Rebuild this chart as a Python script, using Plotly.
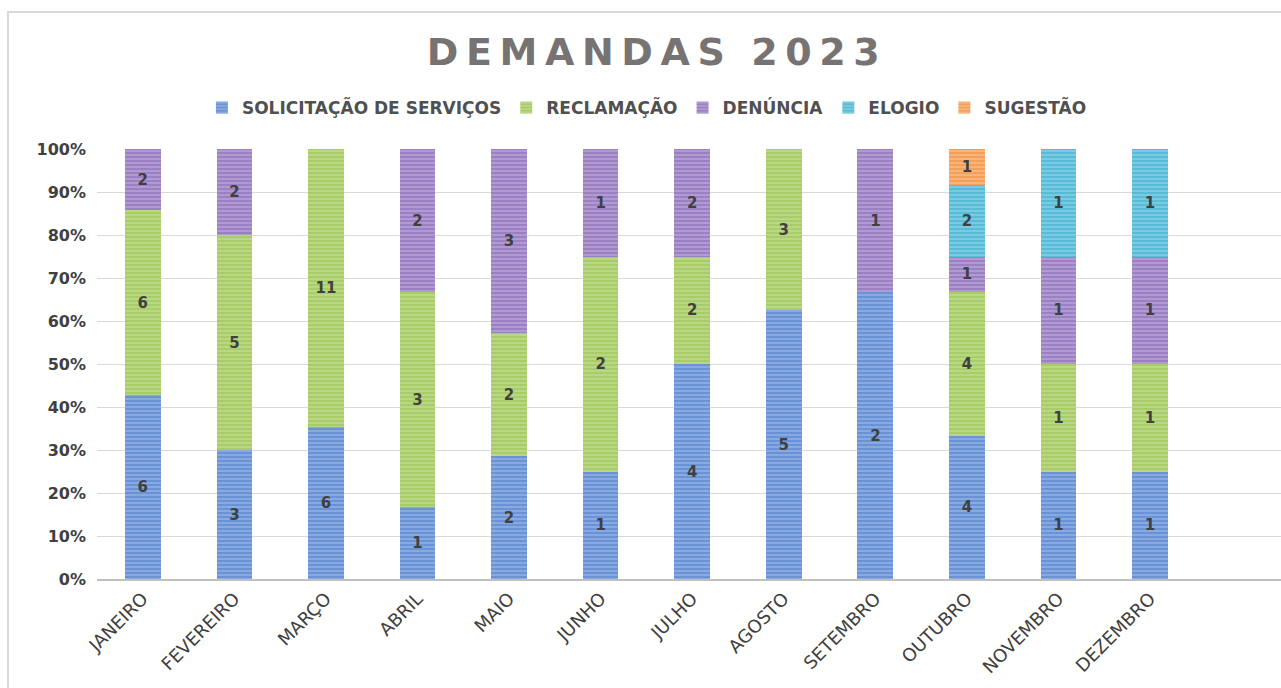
import plotly.graph_objects as go

meses = ["JANEIRO", "FEVEREIRO", "MARÇO", "ABRIL", "MAIO", "JUNHO", "JULHO",
         "AGOSTO", "SETEMBRO", "OUTUBRO", "NOVEMBRO", "DEZEMBRO"]

solicitacao = [6, 3, 6, 1, 2, 1, 4, 5, 2, 4, 1, 1]
reclamacao = [6, 5, 11, 3, 2, 2, 2, 3, None, 4, 1, 1]
denuncia = [2, 2, None, 2, 3, 1, 2, None, 1, 1, 1, 1]
elogio = [None, None, None, None, None, None, None, None, None, 2, 1, 1]
sugestao = [None, None, None, None, None, None, None, None, None, 1, None, None]

series = [
    ("SOLICITAÇÃO DE SERVIÇOS", solicitacao, "#6a92d6"),
    ("RECLAMAÇÃO", reclamacao, "#a8cc68"),
    ("DENÚNCIA", denuncia, "#9b80c3"),
    ("ELOGIO", elogio, "#58bcd6"),
    ("SUGESTÃO", sugestao, "#f5a05a"),
]

FONT = "DejaVu Sans"
fig = go.Figure()
for name, vals, col in series:
    fig.add_trace(go.Bar(
        name=name, x=meses, y=vals,
        text=[("" if v is None else str(v)) for v in vals],
        textposition="inside", insidetextanchor="middle",
        textfont=dict(family=FONT, size=15, color="#404040", weight="bold"),
        marker=dict(color=col, line=dict(width=0),
                    pattern=dict(shape="-", fgcolor="rgba(255,255,255,0.6)", bgcolor=col,
                                 size=4, solidity=0.35, fillmode="overlay")),
        width=0.39,
    ))

title_txt = "\u2009".join("DEMANDAS") + "  " + "\u2009".join("2023")

fig.update_layout(
    barmode="stack", barnorm="percent",
    width=1281, height=688,
    margin=dict(l=97, r=0, t=149, b=109),
    paper_bgcolor="white", plot_bgcolor="white",
    title=dict(text=title_txt, x=0.51, xref="container", xanchor="center",
               y=0.925, yref="container", yanchor="middle",
               font=dict(family=FONT, size=38, color="#777373", weight="bold")),
    legend=dict(orientation="h", xref="container", x=0.505, xanchor="center",
                yref="container", y=0.843, yanchor="middle",
                font=dict(family=FONT, size=17, color="#505050", weight="bold"),
                itemwidth=30, traceorder="normal", tracegroupgap=0),
    showlegend=True,
    font=dict(family=FONT),
)
fig.update_xaxes(range=[-0.5, 12.43], tickangle=-45,
                 tickfont=dict(family=FONT, size=18, color="#404040"),
                 showline=True, linecolor="#bfbfbf", linewidth=2, ticks="", showgrid=False)
fig.update_yaxes(range=[0, 100], dtick=10, ticksuffix="%",
                 tickfont=dict(family=FONT, size=16, color="#404040", weight="bold"),
                 showgrid=True, gridcolor="#d9d9d9", gridwidth=1, zeroline=False,
                 showline=False, ticks="", ticklabelstandoff=10)

fig.add_shape(type="rect", xref="paper", yref="paper",
              x0=(8 - 97) / 1184, x1=1.2, y0=-0.5, y1=(579 - 12) / 430,
              line=dict(color="#d9d9d9", width=2), fillcolor="rgba(0,0,0,0)", layer="below")

fig.write_html("out.html")
